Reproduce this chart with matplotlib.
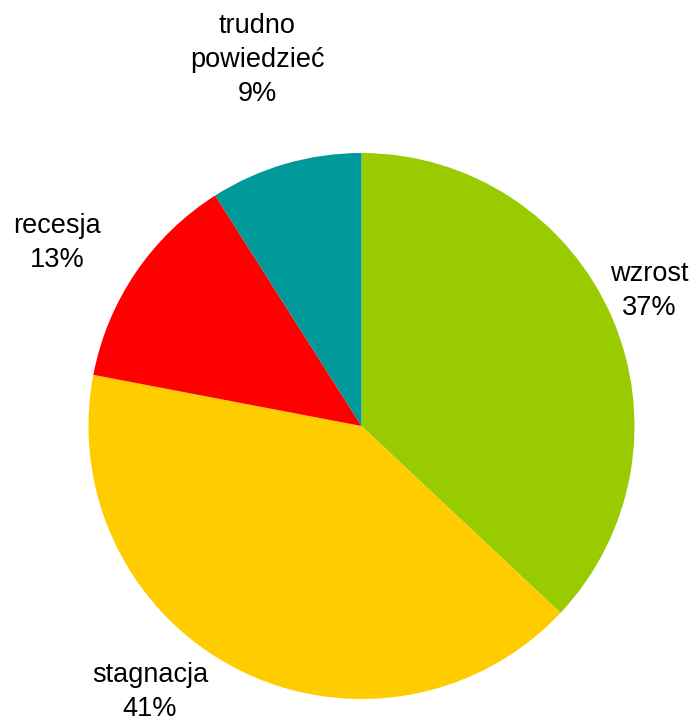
import matplotlib.pyplot as plt

labels = ["wzrost", "stagnacja", "recesja", "trudno\npowiedzieć"]
values = [37, 41, 13, 9]
colors = ["#99CC00", "#FFCC00", "#FF0000", "#009999"]
# label centres in pixel space (y measured from bottom)
label_pos = [(649, 426), (150, 25), (57, 474), (257, 657)]

plt.rcParams['font.family'] = ['Liberation Sans', 'DejaVu Sans']

fig = plt.figure(figsize=(6.92, 7.17), dpi=100)
ax = fig.add_axes([0, 0, 1, 1])
ax.pie(values, colors=colors, startangle=90, counterclock=False,
       center=(361.5, 291), radius=273, frame=True)
ax.set_xlim(0, 692)
ax.set_ylim(0, 717)
ax.set_aspect('equal')
ax.axis('off')

for lab, v, (x, y) in zip(labels, values, label_pos):
    ax.text(x, y, f"{lab}\n{v}%", ha='center', va='center', fontsize=19.5,
            linespacing=1.4, multialignment='center')

fig.savefig("out.png", dpi=100)
